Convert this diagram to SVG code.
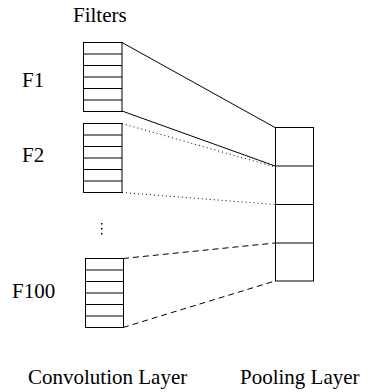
<svg xmlns="http://www.w3.org/2000/svg" width="370" height="392" viewBox="0 0 370 392">
<style>
text{font-family:"Liberation Serif","Times New Roman",serif;font-size:21px;fill:#000}
.box{fill:#fff;stroke:#000;stroke-width:1}
.row{stroke:#000;stroke-width:1}
.solid{stroke:#000;stroke-width:1;fill:none}
.dot{stroke:#000;stroke-width:1;fill:none;stroke-dasharray:1 3}
.dash{stroke:#000;stroke-width:1;fill:none;stroke-dasharray:6 4}
</style>
<g id="connectors">
<line class="solid" x1="122" y1="42.5" x2="275" y2="127.5"/>
<line class="solid" x1="122" y1="111" x2="275" y2="166"/>
<line class="dot" x1="122" y1="123.5" x2="275" y2="167"/>
<line class="dot" x1="122" y1="192.5" x2="275" y2="204.5"/>
<line class="dash" x1="123" y1="258.5" x2="275" y2="243"/>
<line class="dash" x1="123" y1="327.5" x2="275" y2="281"/>
</g>
<g id="F1-filter">
<rect class="box" x="83.5" y="42.5" width="38.5" height="69"/>
<path class="row" d="M83.5 54H122M83.5 65.5H122M83.5 77H122M83.5 88.5H122M83.5 100H122"/>
</g>
<g id="F2-filter">
<rect class="box" x="83.5" y="123.5" width="38.5" height="69"/>
<path class="row" d="M83.5 135H122M83.5 146.5H122M83.5 158H122M83.5 169.5H122M83.5 181H122"/>
</g>
<g id="F100-filter">
<rect class="box" x="85.5" y="258.5" width="38" height="69"/>
<path class="row" d="M85.5 270H123.5M85.5 281.5H123.5M85.5 293H123.5M85.5 304.5H123.5M85.5 316H123.5"/>
</g>
<g id="pooling">
<rect class="box" x="275.5" y="127.5" width="38" height="153.5"/>
<path class="row" d="M275.5 166H313.5M275.5 204.5H313.5M275.5 243H313.5"/>
</g>
<g id="ellipsis">
<rect x="101" y="223" width="1.5" height="1.5" fill="#000"/>
<rect x="101" y="228" width="1.5" height="1.5" fill="#000"/>
<rect x="101" y="233" width="1.5" height="1.5" fill="#000"/>
</g>
<g id="labels">
<text x="73" y="22">Filters</text>
<text x="22" y="87">F1</text>
<text x="22" y="162">F2</text>
<text x="12" y="298">F100</text>
<text x="28" y="384">Convolution Layer</text>
<text x="240" y="384">Pooling  Layer</text>
</g>
</svg>
